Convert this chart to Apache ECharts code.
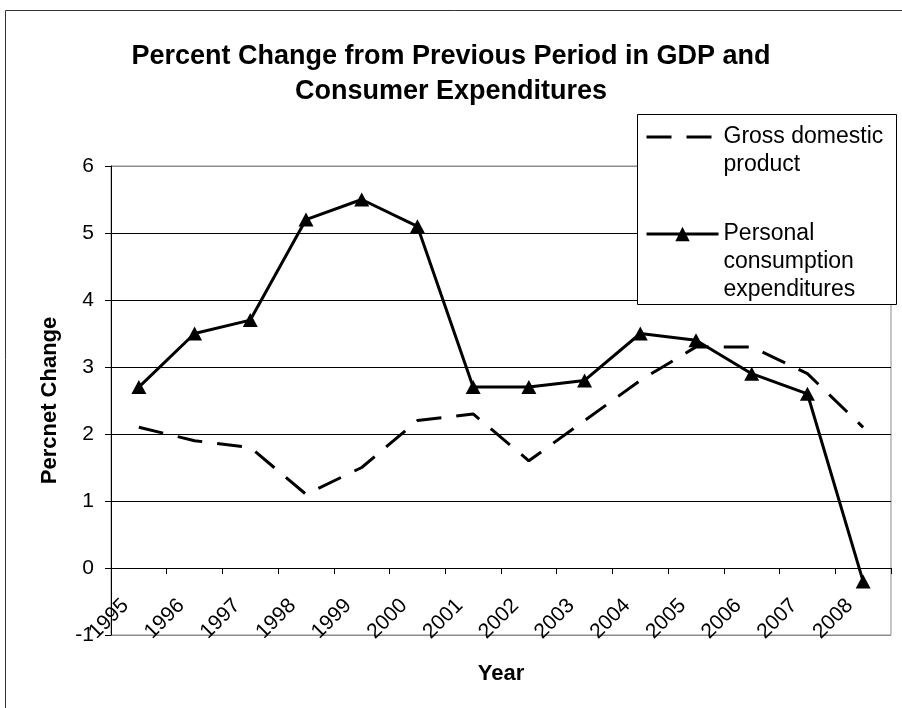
<!DOCTYPE html>
<html>
<head>
<meta charset="utf-8">
<script src="https://cdn.jsdelivr.net/npm/echarts@6/dist/echarts.min.js"></script>
<style>
html,body{margin:0;padding:0;background:#fff;}
#chart{width:902px;height:708px;}
</style>
</head>
<body>
<div id="chart"></div>
<script>
var years = ['1995','1996','1997','1998','1999','2000','2001','2002','2003','2004','2005','2006','2007','2008'];
var gdp = [2.1, 1.9, 1.8, 1.1, 1.5, 2.2, 2.3, 1.6, 2.2, 2.8, 3.3, 3.3, 2.9, 2.1];
var pce = [2.7, 3.5, 3.7, 5.2, 5.5, 5.1, 2.7, 2.7, 2.8, 3.5, 3.4, 2.9, 2.6, -0.2];
var yTicks = [-1, 0, 1, 2, 3, 4, 5, 6];
var seriesNames = ['Gross domestic product', 'Personal consumption expenditures'];
var legendLabels = {
  'Gross domestic product': '\nGross domestic\nproduct',
  'Personal consumption expenditures': '\n\nPersonal\nconsumption\nexpenditures'
};

var font = "'Liberation Sans', Arial, sans-serif";
var chart = echarts.init(document.getElementById('chart'), null, {renderer: 'canvas'});
var legendText = {fontFamily: font, fontSize: 23, color: '#000', lineHeight: 28};
var option = {
  backgroundColor: '#ffffff',
  animation: false,
  title: {
    text: 'Percent Change from Previous Period in GDP and\nConsumer Expenditures',
    left: 'center',
    top: 34,
    textStyle: {fontFamily: font, fontSize: 27, fontWeight: 'bold', color: '#000', lineHeight: 35}
  },
  graphic: [
    {type: 'rect', z: 0, silent: true, shape: {x: 5.5, y: 10.5, width: 1000, height: 1000},
     style: {fill: null, stroke: '#333', lineWidth: 1}},
    {type: 'rect', z: 15, silent: true, shape: {x: 637.5, y: 114.5, width: 259, height: 190},
     style: {fill: '#fff', stroke: '#000', lineWidth: 1}}
  ],
  legend: [
    {
      z: 20,
      left: 645, top: 95,
      padding: 0,
      itemWidth: 72, itemHeight: 18,
      data: [{
        name: seriesNames[0],
        itemStyle: {color: 'rgba(0,0,0,0)', borderColor: 'rgba(0,0,0,0)', borderWidth: 0},
        lineStyle: {color: '#000', width: 3, type: [25, 15]}
      }],
      formatter: function (n) { return legendLabels[n]; },
      textStyle: legendText
    },
    {
      z: 20,
      left: 645, top: 164,
      padding: 0,
      itemWidth: 72, itemHeight: 18,
      data: [{
        name: seriesNames[1],
        lineStyle: {color: '#000', width: 3, type: 'solid'}
      }],
      formatter: function (n) { return legendLabels[n]; },
      textStyle: legendText
    }
  ],
  grid: {
    left: 111, right: 11, top: 166, bottom: 73,
    outerBoundsMode: 'none',
    containLabel: false,
    show: true, backgroundColor: '#fff', borderColor: '#8c8c8c', borderWidth: 1
  },
  xAxis: {
    type: 'category',
    data: years,
    boundaryGap: true,
    offset: -67,
    name: 'Year',
    nameLocation: 'middle',
    nameGap: 95,
    nameTextStyle: {fontFamily: font, fontSize: 22, fontWeight: 'bold', color: '#000'},
    axisLine: {onZero: false, lineStyle: {color: '#000', width: 1}},
    axisTick: {show: true, length: 6, lineStyle: {color: '#000'}},
    axisLabel: {rotate: 45, margin: 21, padding: [0, 19, 0, 0], fontFamily: font, fontSize: 21, color: '#000'},
    splitLine: {show: false}
  },
  yAxis: {
    type: 'value',
    min: -1, max: 6, interval: 1,
    name: 'Percnet Change',
    nameLocation: 'middle',
    nameGap: 50,
    nameTextStyle: {fontFamily: font, fontSize: 22, fontWeight: 'bold', color: '#000'},
    axisLine: {show: true, lineStyle: {color: '#000', width: 1}},
    axisTick: {show: true, length: 6, lineStyle: {color: '#000'}},
    axisLabel: {margin: 17, fontFamily: font, fontSize: 21, color: '#000'},
    splitLine: {show: true, lineStyle: {color: ['#8c8c8c','#000','#000','#000','#000','#000','#000','#8c8c8c'], width: 1}}
  },
  series: [
    {
      name: seriesNames[0],
      type: 'line',
      data: gdp,
      symbol: 'none',
      z: 3,
      lineStyle: {color: '#000', width: 3, type: [25, 15]},
      itemStyle: {color: '#000'}
    },
    {
      name: seriesNames[1],
      type: 'line',
      data: pce,
      symbol: 'triangle',
      symbolSize: [15, 14],
      z: 4,
      lineStyle: {color: '#000', width: 3, type: 'solid'},
      itemStyle: {color: '#000'}
    }
  ]
};
chart.setOption(option);
</script>
</body>
</html>
